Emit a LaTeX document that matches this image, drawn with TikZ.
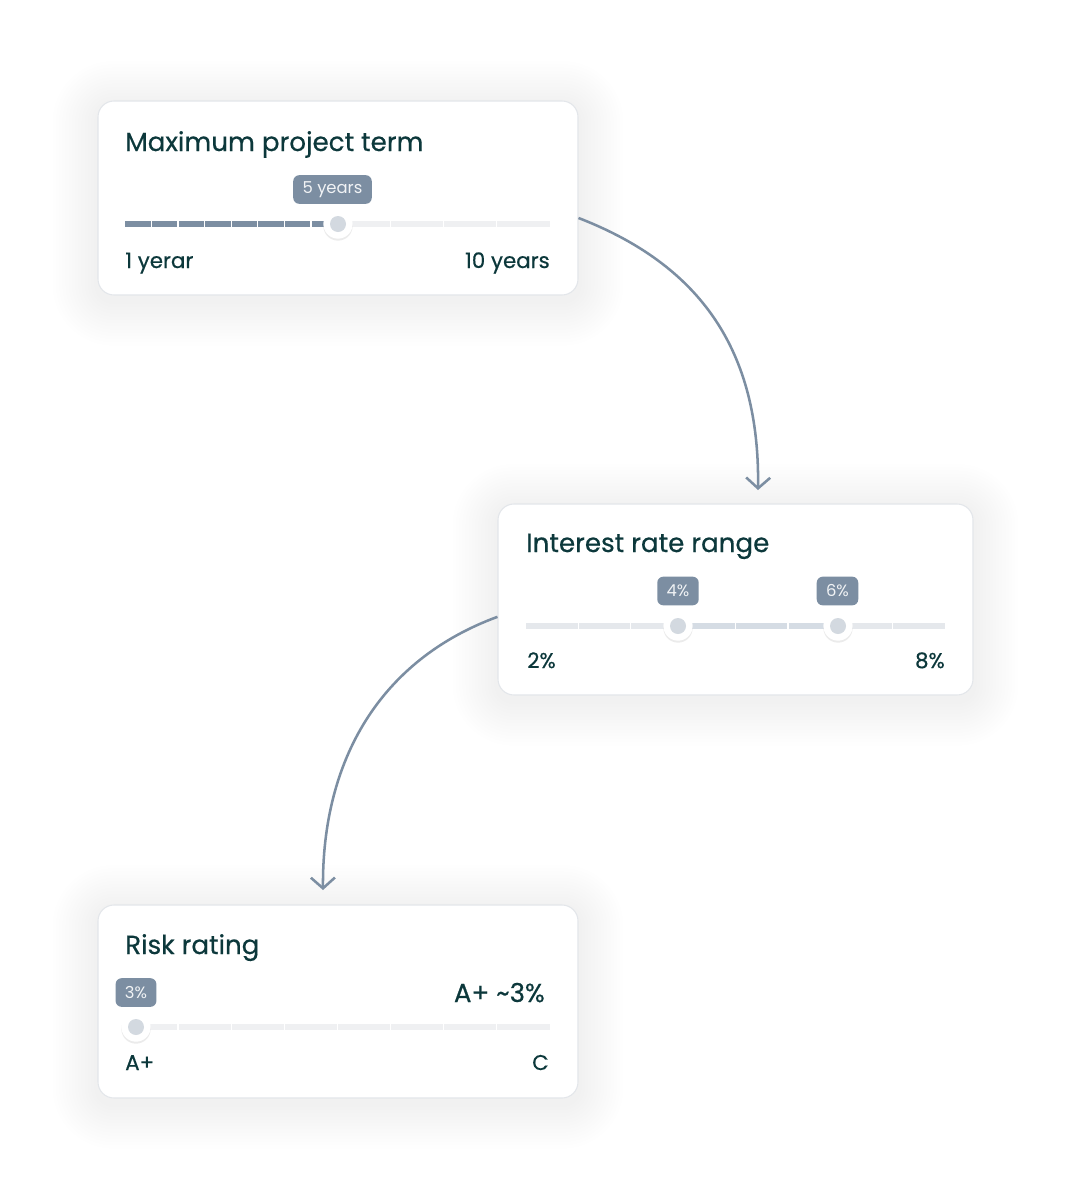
\documentclass[tikz,border=0pt]{standalone}
\usepackage{fontspec}
\setmainfont{Poppins}
\newfontfamily\med{Poppins}[FakeBold=0.5]
\usetikzlibrary{positioning,arrows.meta,backgrounds,shadows}
\definecolor{ink}{HTML}{0C383B}
\definecolor{slate}{HTML}{7C8EA2}
\definecolor{edge}{HTML}{E3E6EA}
\definecolor{trk}{HTML}{EFF0F2}
\definecolor{trkmid}{HTML}{E5E8EC}
\definecolor{trkin}{HTML}{D5DCE4}
\definecolor{knobc}{HTML}{D3D9E0}
\definecolor{paper}{HTML}{F1F3F5}

\begin{document}
\begin{tikzpicture}[x=0.75pt,y=-0.75pt,
  card/.style={draw=edge,line width=0.8pt,fill=white,rounded corners=12pt,inner sep=0pt},
  title/.style={anchor=base west,text=ink,font=\med\fontsize{19.6}{23}\selectfont,inner sep=0pt},
  lbl/.style={text=ink,font=\med\fontsize{16}{19}\selectfont,inner sep=0pt},
  badge/.style={fill=slate,text=paper,rounded corners=4.5pt,font=\fontsize{12.3}{14}\selectfont,
                minimum height=21.5pt,inner xsep=7pt,inner ysep=0pt},
  halo/.style={circle,fill=white,minimum size=22pt,inner sep=0pt,
               drop shadow={opacity=.08,fill=black,shadow xshift=0pt,shadow yshift=-1.5pt}},
  knob/.style={circle,fill=knobc,minimum size=12pt,inner sep=0pt},
  bar/.style={line width=3.8pt},
  gap/.style={draw=white,line width=1pt},
  link/.style={draw=slate,line width=1.9pt,-{Straight Barb[length=8pt,width=18pt]}}
]
\useasboundingbox (0,0) rectangle (1070,1200);

\node[card,minimum width=360pt,minimum height=145.5pt] (c1) at (338,198) {};
\node[card,minimum width=356.25pt,minimum height=143.25pt] (c2) at (735.5,599.5) {};
\node[card,minimum width=360pt,minimum height=144.75pt] (c3) at (338,1001.5) {};

\begin{scope}[on background layer]
\fill[white] (0,0) rectangle (1070,1200);
\foreach \c in {c1,c2,c3}{
  \foreach \i [evaluate=\i as \r using 12+\i*2.4, evaluate=\i as \d using \i*2.4] in {1,...,14}
    \fill[black,opacity=.0032,rounded corners=\r pt]
      ([shift={(-\d pt,-\d pt-4pt)}]\c.south west) rectangle ([shift={(\d pt,\d pt-4pt)}]\c.north east);
}
\end{scope}

% term
\node[title] (t1) at (125,151) {Maximum project term};
\node[badge] (b1) at (332.5,189.5) {5 years};
\draw[bar,trk] (125,224) -- (550,224);
\draw[bar,slate] (125,224) -- (338,224);
\foreach \x in {151.6,178.1,204.7,231.2,257.8,284.4,310.9,390.5,443.6,496.7}
  \draw[gap] (\x,219) -- (\x,229);
\node[halo] (h1) at (338,224) {};
\node[knob] (k1) at (338,224) {};
\node[lbl,anchor=base west] (lo1) at (125,268) {1 yerar};
\node[lbl,anchor=base east] (hi1) at (550,268) {10 years};

% rate
\node[title] (t2) at (526,552) {Interest rate range};
\node[badge] (b2) at (678,591) {4\%};
\node[badge] (b3) at (837.5,591) {6\%};
\draw[bar,trkmid] (526,626) -- (945,626);
\draw[bar,trkin] (678,626) -- (838,626);
\foreach \x in {578.4,630.8,735.6,788,892.8}
  \draw[gap] (\x,621) -- (\x,631);
\node[halo] (h2) at (678,626) {};
\node[knob] (k2) at (678,626) {};
\node[halo] (h3) at (838,626) {};
\node[knob] (k3) at (838,626) {};
\node[lbl,anchor=base west] (lo2) at (527,668) {2\%};
\node[lbl,anchor=base east] (hi2) at (945,668) {8\%};

% risk
\node[title] (t3) at (125,954) {Risk rating};
\node[badge] (b4) at (136,992.5) {3\%};
\node[lbl,anchor=base east,font=\med\fontsize{19.5}{23}\selectfont] (v3) at (545,1002) {A+ \textasciitilde3\%};
\draw[bar,trk] (125,1027) -- (550,1027);
\foreach \x in {178.1,231.2,284.4,337.5,390.5,443.6,496.7}
  \draw[gap] (\x,1022) -- (\x,1032);
\node[halo] (h4) at (136,1027) {};
\node[knob] (k4) at (136,1027) {};
\node[lbl,anchor=base west] (lo3) at (125,1070) {A+};
\node[lbl,anchor=base east] (hi3) at (549,1070) {C};

\coordinate (e1) at (758,490);
\coordinate (e2) at (323,890);
\draw[link] ([yshift=-15pt]c1.east) .. controls (700,265) and (760,350) .. (e1);
\draw[link] ([yshift=-13pt]c2.west) .. controls (380,660) and (322,760) .. (e2);
\end{tikzpicture}
\end{document}
